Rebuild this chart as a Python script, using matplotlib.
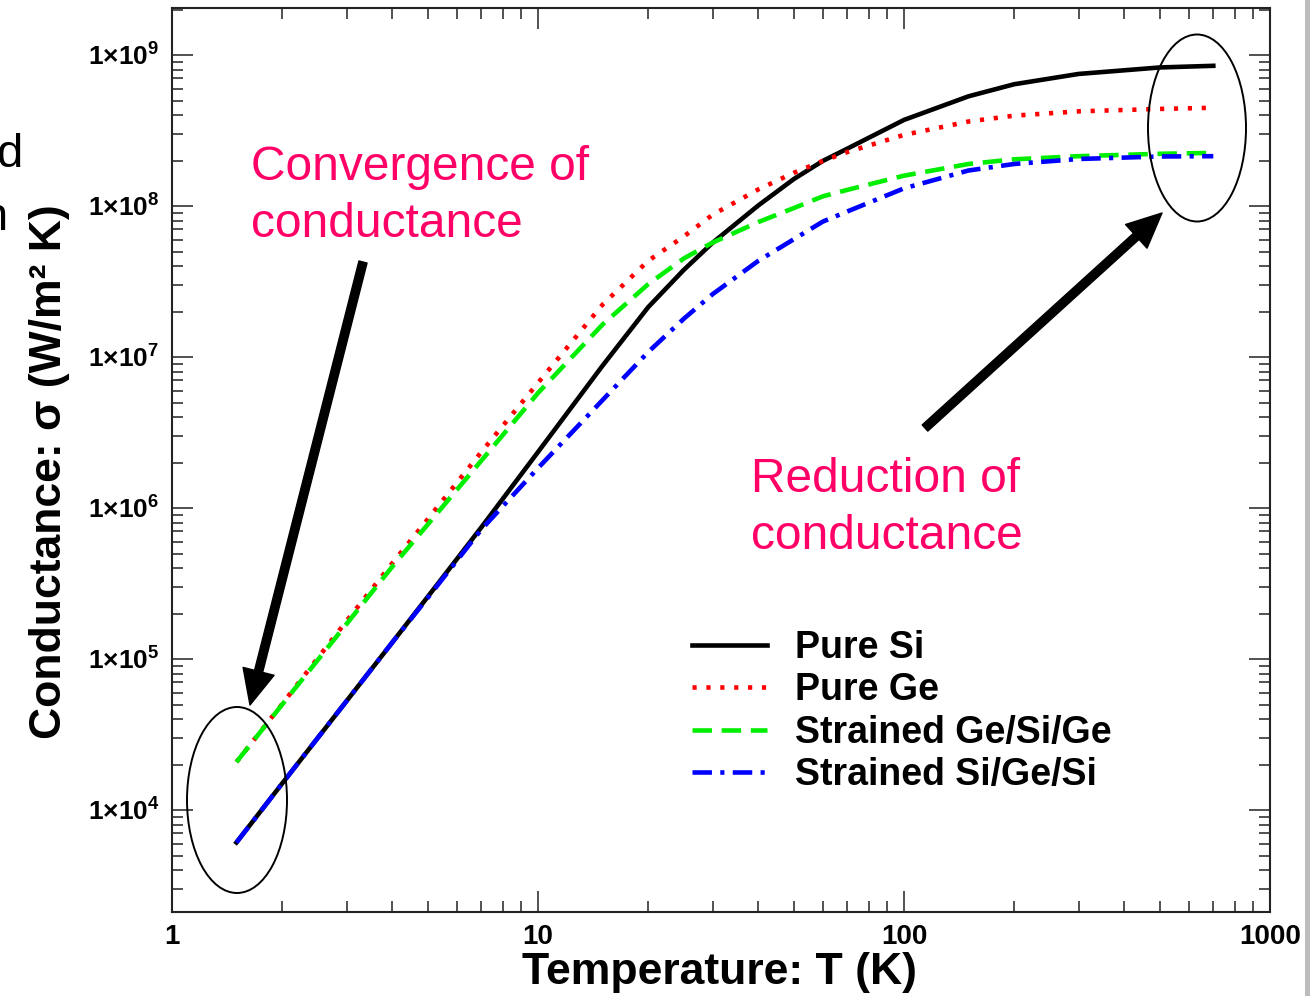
import matplotlib
matplotlib.use('Agg')
import matplotlib.pyplot as plt
from matplotlib.patches import Ellipse, Rectangle
from matplotlib.transforms import IdentityTransform
from matplotlib.ticker import LogLocator, NullFormatter, FuncFormatter, FixedLocator
import numpy as np

plt.rcParams['lines.scale_dashes'] = False
plt.rcParams['mathtext.fontset'] = 'custom'
plt.rcParams['mathtext.rm'] = 'Liberation Sans'
plt.rcParams['mathtext.bf'] = 'Liberation Sans:bold'

SANS = ['Liberation Sans', 'DejaVu Sans']

# temperature (K) and thermal conductance (W/m^2 K)
temperature = [1.5, 2, 3, 4, 5, 7, 10, 15, 20, 25, 30, 40, 50, 60, 70, 100, 150, 200, 300, 500, 700]
sigma_pure_si = [6.1e3, 1.50e4, 5.28e4, 1.29e5, 2.59e5, 7.45e5, 2.35e6, 8.75e6, 2.14e7, 3.77e7,
                 5.72e7, 1.01e8, 1.51e8, 1.99e8, 2.40e8, 3.72e8, 5.33e8, 6.41e8, 7.50e8, 8.28e8,
                 8.49e8]
sigma_pure_ge = [2.08e4, 5.04e4, 1.79e5, 4.32e5, 8.45e5, 2.35e6, 6.75e6, 2.22e7, 4.34e7, 6.28e7,
                 8.76e7, 1.29e8, 1.66e8, 1.99e8, 2.28e8, 2.96e8, 3.63e8, 3.97e8, 4.24e8, 4.40e8,
                 4.48e8]
sigma_ge_si_ge = [2.08e4, 5.00e4, 1.71e5, 4.10e5, 7.80e5, 2.06e6, 5.78e6, 1.64e7, 3.04e7, 4.49e7,
                  5.73e7, 7.84e7, 9.70e7, 1.16e8, 1.28e8, 1.59e8, 1.90e8, 2.04e8, 2.14e8, 2.22e8,
                  2.25e8]
sigma_si_ge_si = [6.1e3, 1.50e4, 5.28e4, 1.29e5, 2.55e5, 7.21e5, 1.84e6, 5.18e6, 1.08e7, 1.79e7,
                  2.61e7, 4.34e7, 6.03e7, 7.89e7, 9.21e7, 1.31e8, 1.72e8, 1.90e8, 2.05e8, 2.13e8,
                  2.14e8]

series_labels = ['Pure Si', 'Pure Ge', 'Strained Ge/Si/Ge', 'Strained Si/Ge/Si']
x_ticks = [1, 10, 100, 1000]
y_ticks = [1e4, 1e5, 1e6, 1e7, 1e8, 1e9]

W, H = 1312, 996


def px(x, y):
    return x / W, 1 - y / H


fig = plt.figure(figsize=(W / 100, H / 100), dpi=100)
ax = fig.add_axes([172 / W, 1 - 912 / H, (1270 - 172) / W, (912 - 8) / H])

styles = [
    dict(color='black', ls='-'),
    dict(color='#ff0000', ls=(0, (3, 7))),
    dict(color='#00ee00', ls=(0, (14, 7))),
    dict(color='#0000ff', ls=(0, (14, 6, 3, 6))),
]
for ys, label, st in zip([sigma_pure_si, sigma_pure_ge, sigma_ge_si_ge, sigma_si_ge_si],
                         series_labels, styles):
    ax.plot(temperature, ys, lw=3.3, label=label, dash_capstyle='butt', **st)

ax.set_xscale('log')
ax.set_yscale('log')
ax.set_xlim(1, 1000)
ax.set_ylim(2113, 2.05e9)

ax.xaxis.set_major_locator(FixedLocator(x_ticks))
ax.yaxis.set_major_locator(FixedLocator(y_ticks))
ax.xaxis.set_minor_locator(LogLocator(base=10, subs=np.arange(2, 10), numticks=20))
ax.yaxis.set_minor_locator(LogLocator(base=10, subs=np.arange(2, 10), numticks=20))
ax.xaxis.set_minor_formatter(NullFormatter())
ax.yaxis.set_minor_formatter(NullFormatter())
ax.xaxis.set_major_formatter(FuncFormatter(lambda v, p: '%d' % round(v)))
ax.yaxis.set_major_formatter(FuncFormatter(
    lambda v, p: r'$\mathbf{1{\times}10^{%d}}$' % round(np.log10(v))))

ax.tick_params(which='both', direction='in', top=True, right=True, width=1.1, color='#222222')
ax.tick_params(which='major', length=15)
ax.tick_params(which='minor', length=8)
ax.tick_params(axis='y', labelsize=19, pad=9)
ax.tick_params(axis='x', labelsize=20, pad=9)
for lab in ax.get_xticklabels():
    lab.set_family(SANS)
    lab.set_weight('bold')
for sp in ax.spines.values():
    sp.set_linewidth(1.5)
    sp.set_color('#222222')

fig.text(*px(720, 972), 'Temperature: T (K)', ha='center', va='center',
         fontsize=32, fontweight='bold', family=SANS)
fig.text(*px(50, 472), 'Conductance: σ (W/m² K)', ha='center', va='center', rotation=90,
         fontsize=32, fontweight='bold', family=SANS)

leg = ax.legend(loc='upper left', bbox_to_anchor=px(692, 630), bbox_transform=fig.transFigure,
                frameon=False, prop=dict(family=SANS, weight='bold', size=27),
                handlelength=2.0, handletextpad=0.75, labelspacing=0.17, borderpad=0,
                borderaxespad=0)

pink = '#ff0066'
fig.text(*px(251, 180), 'Convergence of', color=pink, fontsize=34.5, family=SANS, va='baseline')
fig.text(*px(251, 237), 'conductance', color=pink, fontsize=34.5, family=SANS, va='baseline')
fig.text(*px(751, 492), 'Reduction of', color=pink, fontsize=34.5, family=SANS, va='baseline')
fig.text(*px(751, 549), 'conductance', color=pink, fontsize=34.5, family=SANS, va='baseline')

# cut-off slide text on the left edge
fig.text(*px(23, 167), 'd', fontsize=34, family=SANS, ha='right', va='baseline')
fig.text(*px(8, 230), 'n', fontsize=34, family=SANS, ha='right', va='baseline')

arrow = dict(arrowstyle='simple,head_width=1.15,head_length=1.25,tail_width=0.3',
             fc='black', ec='black', shrinkA=0, shrinkB=0, mutation_scale=20)
ax.annotate('', xy=(250, H - 705), xytext=(363, H - 262), xycoords='figure pixels',
            textcoords='figure pixels', arrowprops=arrow)
ax.annotate('', xy=(1162, H - 213), xytext=(925, H - 428), xycoords='figure pixels',
            textcoords='figure pixels', arrowprops=arrow)

fig.add_artist(Ellipse((237, H - 800), 100, 186, transform=IdentityTransform(),
                       fill=False, ec='black', lw=1.4))
fig.add_artist(Ellipse((1197, H - 128), 98, 187, transform=IdentityTransform(),
                       fill=False, ec='black', lw=1.4))
fig.add_artist(Rectangle((1305, 0), 5, H, transform=IdentityTransform(),
                         fc='#bcbcbc', ec='none'))

fig.savefig('out.png', dpi=100)
